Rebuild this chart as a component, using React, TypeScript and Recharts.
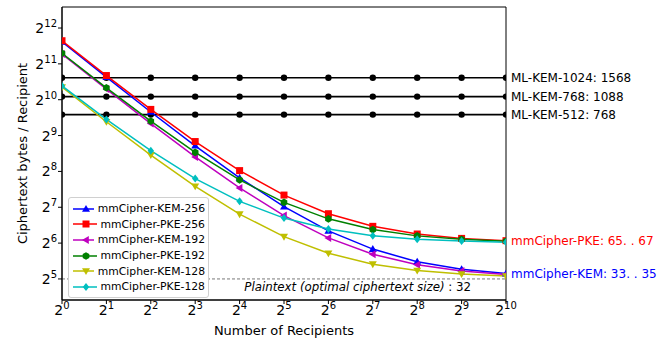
import React from "react";
import {
  LineChart,
  Line,
  XAxis,
  YAxis,
  ReferenceLine,
  ReferenceArea,
  Legend,
} from "recharts";

const recipients = [1, 2, 4, 8, 16, 32, 64, 128, 256, 512, 1024];
const xTicks = [1, 2, 4, 8, 16, 32, 64, 128, 256, 512, 1024];
const yTicks = [32, 64, 128, 256, 512, 1024, 2048, 4096];

const kem256 = [3135, 1584, 808, 420, 226, 129.5, 81, 57, 44.6, 38.6, 35.5];
const pke256 = [3204, 1634, 849, 456, 260, 162, 113, 88.5, 76.3, 70.1, 67.1];
const kem192 = [2482, 1257, 645, 339, 186, 109, 70.8, 51.6, 42.1, 37.3, 34.9];
const pke192 = [2514, 1289, 676, 370, 217, 140.6, 102.3, 83.1, 73.6, 68.8, 66.4];
const kem128 = [1305, 669, 351, 192, 112, 72.5, 52.6, 42.6, 37.7, 35.2, 33.9];
const pke128 = [1336, 700, 382, 223, 143.5, 103.8, 83.9, 73.9, 69, 66.5, 65.2];
const mlkem1024 = [1568, 1568, 1568, 1568, 1568, 1568, 1568, 1568, 1568, 1568, 1568];
const mlkem768 = [1088, 1088, 1088, 1088, 1088, 1088, 1088, 1088, 1088, 1088, 1088];
const mlkem512 = [768, 768, 768, 768, 768, 768, 768, 768, 768, 768, 768];

const plaintextSize = 32;
const yDomain = [21.3, 6150];
const FONT = "DejaVu Sans";

const data = recipients.map((n, i) => ({
  n,
  kem256: kem256[i],
  pke256: pke256[i],
  kem192: kem192[i],
  pke192: pke192[i],
  kem128: kem128[i],
  pke128: pke128[i],
  mlkem1024: mlkem1024[i],
  mlkem768: mlkem768[i],
  mlkem512: mlkem512[i],
}));

const series = [
  { key: "kem256", name: "mmCipher-KEM-256", color: "#0000ff", shape: "up" },
  { key: "pke256", name: "mmCipher-PKE-256", color: "#ff0000", shape: "square" },
  { key: "kem192", name: "mmCipher-KEM-192", color: "#bf00bf", shape: "left" },
  { key: "pke192", name: "mmCipher-PKE-192", color: "#008000", shape: "hex" },
  { key: "kem128", name: "mmCipher-KEM-128", color: "#bfbf00", shape: "down" },
  { key: "pke128", name: "mmCipher-PKE-128", color: "#00bfbf", shape: "diamond" },
];

const refLines = [
  { key: "mlkem1024", label: "ML-KEM-1024: 1568", value: 1568 },
  { key: "mlkem768", label: "ML-KEM-768: 1088", value: 1088 },
  { key: "mlkem512", label: "ML-KEM-512: 768", value: 768 },
];

function Marker({ cx, cy, color, shape }: any) {
  const r = 4;
  switch (shape) {
    case "up":
      return <polygon points={`${cx},${cy - r} ${cx + r},${cy + r * 0.7} ${cx - r},${cy + r * 0.7}`} fill={color} />;
    case "down":
      return <polygon points={`${cx},${cy + r} ${cx + r},${cy - r * 0.7} ${cx - r},${cy - r * 0.7}`} fill={color} />;
    case "left":
      return <polygon points={`${cx - r},${cy} ${cx + r * 0.7},${cy - r} ${cx + r * 0.7},${cy + r}`} fill={color} />;
    case "square":
      return <rect x={cx - 3.5} y={cy - 3.5} width={7} height={7} fill={color} />;
    case "diamond":
      return <polygon points={`${cx},${cy - r} ${cx + r * 0.8},${cy} ${cx},${cy + r} ${cx - r * 0.8},${cy}`} fill={color} />;
    case "hex": {
      const pts = [0, 1, 2, 3, 4, 5]
        .map((k) => {
          const a = (Math.PI / 3) * k - Math.PI / 2;
          return `${cx + 3.8 * Math.cos(a)},${cy + 3.8 * Math.sin(a)}`;
        })
        .join(" ");
      return <polygon points={pts} fill={color} />;
    }
    default:
      return <circle cx={cx} cy={cy} r={3} fill={color} />;
  }
}

const XTick = ({ x, y, payload }: any) => (
  <text x={x} y={y + 9} textAnchor="middle" fontFamily={FONT} fontSize={14} fill="#000">
    <tspan>2</tspan>
    <tspan dy={-6} fontSize={10}>
      {Math.round(Math.log2(payload.value))}
    </tspan>
  </text>
);

const YTick = ({ x, y, payload }: any) => (
  <text x={x} y={y + 5} textAnchor="end" fontFamily={FONT} fontSize={14} fill="#000">
    <tspan>2</tspan>
    <tspan dy={-6} fontSize={10}>
      {Math.round(Math.log2(payload.value))}
    </tspan>
  </text>
);

const renderLegend = () => (
  <div
    style={{
      background: "#fff",
      border: "1px solid #d0d0d0",
      borderRadius: 3,
      padding: "3px 3px 2px 3px",
      width: 141,
      boxSizing: "border-box",
      fontFamily: FONT,
      fontSize: 10.8,
      color: "#000",
    }}
  >
    {series.map((s) => (
      <div key={s.key} style={{ display: "flex", alignItems: "center", height: 15.6 }}>
        <svg width={28} height={12}>
          <line x1={1} y1={6} x2={27} y2={6} stroke={s.color} strokeWidth={1.5} />
          <Marker cx={14} cy={6} color={s.color} shape={s.shape} />
        </svg>
        <span style={{ marginLeft: 4, whiteSpace: "nowrap" }}>{s.name}</span>
      </div>
    ))}
  </div>
);

const PlaintextLabel = ({ viewBox }: any) => (
  <text
    x={viewBox.x + viewBox.width - 35}
    y={viewBox.y + 12}
    textAnchor="end"
    fontFamily={FONT}
    fontSize={11.8}
    fill="#000"
  >
    <tspan fontStyle="italic">Plaintext (optimal ciphertext size)</tspan>
    <tspan> : {plaintextSize}</tspan>
  </text>
);

export default function App() {
  return (
    <div style={{ position: "absolute", left: 0, top: 0, width: 671, height: 341, background: "#fff" }}>
      <LineChart
        width={671}
        height={341}
        data={data}
        margin={{ top: 7, right: 165, left: 12, bottom: 0 }}
      >
        <XAxis
          dataKey="n"
          type="number"
          scale="log"
          domain={[1, 1024]}
          ticks={xTicks}
          allowDataOverflow
          height={41}
          tick={<XTick />}
          tickSize={4}
          tickLine={{ stroke: "#000" }}
          axisLine={{ stroke: "#000" }}
          label={{
            content: ({ viewBox }: any) => (
              <text
                x={viewBox.x + viewBox.width / 2}
                y={viewBox.y + 35}
                textAnchor="middle"
                fontFamily={FONT}
                fontSize={13}
                fill="#000"
              >
                Number of Recipients
              </text>
            ),
          }}
        />
        <YAxis
          type="number"
          scale="log"
          domain={yDomain}
          ticks={yTicks}
          allowDataOverflow
          width={50}
          tick={<YTick />}
          tickSize={4}
          tickMargin={1}
          tickLine={{ stroke: "#000" }}
          axisLine={{ stroke: "#000" }}
          label={{
            content: ({ viewBox }: any) => {
              const cx = viewBox.x + 10;
              const cy = viewBox.y + viewBox.height / 2;
              return (
                <text
                  x={cx}
                  y={cy}
                  transform={`rotate(-90, ${cx}, ${cy})`}
                  textAnchor="middle"
                  dominantBaseline="central"
                  fontFamily={FONT}
                  fontSize={13}
                  fill="#000"
                >
                  Ciphertext bytes / Recipient
                </text>
              );
            },
          }}
        />
        <ReferenceArea
          x1={1}
          x2={1024}
          y1={yDomain[0]}
          y2={yDomain[1]}
          fill="none"
          stroke="#000"
          strokeWidth={1}
          ifOverflow="visible"
        />
        <ReferenceLine
          y={plaintextSize}
          stroke="#555"
          strokeWidth={0.8}
          strokeDasharray="3 2"
          label={<PlaintextLabel />}
        />
        {refLines.map((r) => (
          <ReferenceLine
            key={r.key + "-label"}
            y={r.value}
            stroke="none"
            label={{ value: r.label, position: "right", fontFamily: FONT, fontSize: 12, fill: "#000" }}
          />
        ))}
        <ReferenceLine
          y={67}
          stroke="none"
          label={{ value: "mmCipher-PKE: 65. . 67", position: "right", fontFamily: FONT, fontSize: 12, fill: "#ff0000" }}
        />
        <ReferenceLine
          y={35.5}
          stroke="none"
          label={{ value: "mmCipher-KEM: 33. . 35", position: "right", fontFamily: FONT, fontSize: 12, fill: "#0000ff" }}
        />
        {refLines.map((r) => (
          <Line
            key={r.key}
            dataKey={r.key}
            type="linear"
            stroke="#000"
            strokeWidth={1.6}
            dot={(p: any) => <circle key={`${r.key}-${p.index}`} cx={p.cx} cy={p.cy} r={3.2} fill="#000" />}
            activeDot={false}
            isAnimationActive={false}
            legendType="none"
          />
        ))}
        {series.map((s) => (
          <Line
            key={s.key}
            dataKey={s.key}
            name={s.name}
            type="linear"
            stroke={s.color}
            strokeWidth={1.5}
            dot={(p: any) => (
              <Marker key={`${s.key}-${p.index}`} cx={p.cx} cy={p.cy} color={s.color} shape={s.shape} />
            )}
            activeDot={false}
            isAnimationActive={false}
          />
        ))}
        <Legend
          content={renderLegend}
          layout="vertical"
          align="center"
          verticalAlign="middle"
          wrapperStyle={{ left: 68, top: 197, width: "auto", bottom: "auto" }}
        />
      </LineChart>
    </div>
  );
}
